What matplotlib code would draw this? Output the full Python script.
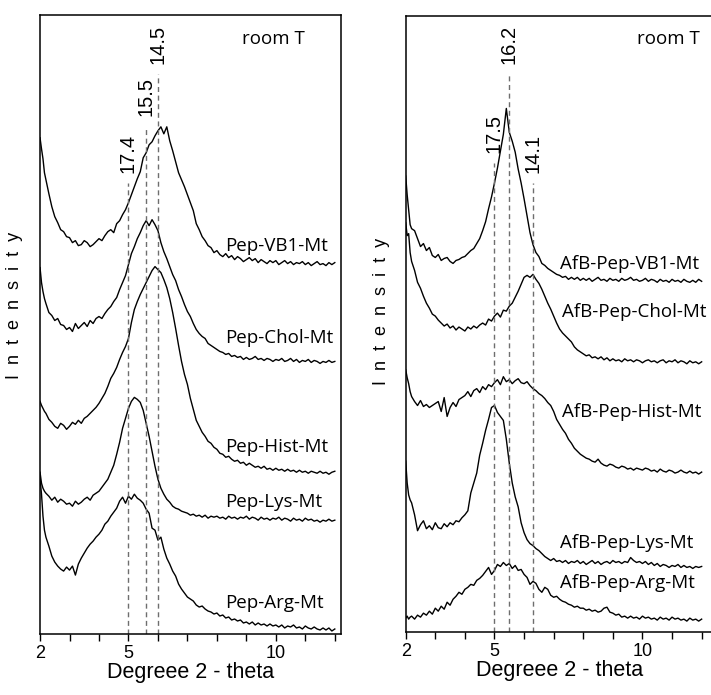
# XRD patterns of peptide / montmorillonite hybrids (left) and with AfB (right)

import matplotlib.pyplot as plt


two_theta = [2.0, 2.05, 2.1, 2.15, 2.2,
             2.3, 2.4, 2.5, 2.6, 2.7, 2.8, 2.9, 3.0, 3.1, 3.2,
             3.3, 3.4, 3.5, 3.6, 3.7, 3.8, 3.9, 4.0, 4.1, 4.2,
             4.3, 4.4, 4.5, 4.6, 4.7, 4.8, 4.9, 5.0, 5.1, 5.2,
             5.3, 5.4, 5.5, 5.6, 5.7, 5.8, 5.9, 6.0, 6.1, 6.2,
             6.3, 6.4, 6.5, 6.6, 6.7, 6.8, 6.9, 7.0, 7.1, 7.2,
             7.3, 7.4, 7.5, 7.6, 7.7, 7.8, 7.9, 8.0, 8.1, 8.2,
             8.3, 8.4, 8.5, 8.6, 8.7, 8.8, 8.9, 9.0, 9.1, 9.2,
             9.3, 9.4, 9.5, 9.6, 9.7, 9.8, 9.9, 10.0, 10.1, 10.2,
             10.3, 10.4, 10.5, 10.6, 10.7, 10.8, 10.9, 11.0, 11.1, 11.2,
             11.3, 11.4, 11.5, 11.6, 11.7, 11.8, 11.9, 12.0]

# left panel (arbitrary intensity)
pep_vb1 = [497, 486, 476, 462, 455,
           441, 428, 418, 412, 405, 403, 398, 397, 392, 394,
           389, 390, 394, 392, 388, 390, 393, 396, 394, 399,
           403, 405, 402, 411, 414, 420, 425, 432, 440, 448,
           456, 463, 477, 482, 490, 493, 499, 504, 508, 501,
           508, 494, 484, 473, 462, 455, 448, 440, 432, 424,
           411, 405, 398, 394, 389, 387, 382, 384, 380, 378,
           381, 377, 379, 375, 378, 376, 373, 375, 377, 374,
           376, 372, 375, 373, 371, 374, 372, 374, 370, 372,
           374, 371, 373, 370, 372, 371, 373, 370, 372, 369,
           371, 373, 370, 371, 369, 372, 370, 372]
pep_chol = [367, 352, 343, 336, 331,
            322, 319, 314, 316, 310, 309, 305, 307, 303, 311,
            306, 309, 312, 308, 314, 311, 316, 318, 316, 321,
            325, 328, 333, 337, 345, 352, 359, 370, 381, 388,
            396, 402, 409, 414, 409, 415, 410, 404, 392, 383,
            376, 368, 360, 354, 345, 338, 330, 323, 318, 311,
            305, 301, 298, 296, 291, 289, 287, 285, 283, 282,
            280, 281, 278, 279, 277, 278, 275, 277, 275, 276,
            278, 275, 276, 274, 276, 275, 273, 275, 274, 276,
            273, 274, 276, 273, 275, 272, 274, 273, 275, 272,
            274, 273, 271, 273, 272, 274, 272, 273]
pep_hist = [233, 229, 226, 223, 221,
            215, 212, 208, 206, 211, 209, 205, 208, 212, 210,
            214, 211, 216, 218, 221, 224, 227, 231, 236, 241,
            248, 256, 261, 267, 275, 282, 288, 296, 312, 325,
            333, 340, 346, 352, 358, 364, 368, 365, 362, 355,
            347, 336, 322, 306, 289, 273, 260, 250, 236, 225,
            214, 208, 202, 198, 193, 191, 187, 185, 181, 180,
            177, 178, 175, 173, 174, 171, 172, 169, 171, 169,
            167, 168, 166, 168, 165, 166, 164, 166, 164, 165,
            163, 165, 163, 164, 162, 164, 162, 163, 161, 163,
            162, 161, 163, 161, 162, 160, 162, 163]
pep_lys = [162, 151, 146, 143, 141,
           138, 134, 137, 132, 135, 133, 130, 131, 128, 133,
           130, 132, 135, 137, 134, 139, 141, 143, 147, 151,
           155, 162, 169, 180, 192, 206, 216, 226, 233, 237,
           235, 232, 224, 211, 198, 183, 168, 155, 146, 140,
           135, 132, 128, 126, 125, 123, 122, 121, 119, 120,
           118, 119, 117, 119, 116, 118, 117, 118, 116, 117,
           115, 118, 116, 117, 115, 117, 116, 118, 115, 117,
           116, 114, 117, 115, 116, 114, 116, 115, 117, 114,
           116, 115, 113, 116, 114, 115, 113, 116, 114, 115,
           113, 114, 112, 114, 113, 115, 113, 114]
pep_arg = [156, 140, 118, 104, 97,
           88, 78, 72, 68, 65, 63, 67, 64, 68, 59,
           70, 76, 81, 86, 90, 93, 97, 100, 104, 110,
           113, 118, 122, 126, 133, 137, 131, 138, 135, 140,
           136, 134, 131, 125, 121, 106, 104, 94, 97, 85,
           76, 70, 63, 58, 50, 45, 41, 37, 35, 33,
           29, 27, 28, 25, 23, 22, 20, 21, 18, 19,
           16, 17, 14, 15, 13, 14, 11, 12, 10, 12,
           9, 11, 9, 10, 8, 10, 8, 9, 7, 9,
           6, 8, 7, 9, 6, 7, 5, 8, 6, 5,
           7, 5, 4, 6, 4, 6, 3, 5]

# right panel
afb_vb1 = [459, 440, 425, 410, 406,
           404, 396, 388, 391, 384, 387, 379, 377, 380, 374,
           376, 377, 373, 371, 374, 375, 377, 378, 381, 384,
           386, 391, 396, 404, 413, 426, 438, 452, 467, 484,
           501, 527, 503, 494, 483, 466, 452, 436, 419, 402,
           390, 382, 378, 371, 369, 366, 364, 362, 360, 359,
           357, 358, 355, 357, 355, 357, 354, 356, 354, 356,
           353, 355, 357, 354, 355, 353, 356, 354, 355, 353,
           356, 354, 355, 357, 354, 355, 353, 354, 356, 353,
           355, 354, 352, 355, 353, 354, 352, 355, 353, 354,
           352, 355, 353, 352, 354, 352, 355, 353]
afb_chol = [412, 399, 401, 382, 373,
            364, 352, 346, 338, 331, 326, 320, 318, 314, 311,
            308, 310, 306, 308, 304, 307, 305, 303, 307, 305,
            308, 306, 309, 311, 309, 315, 313, 318, 321, 317,
            324, 323, 328, 331, 337, 343, 350, 357, 359, 357,
            360, 355, 351, 345, 338, 331, 325, 318, 311, 305,
            301, 298, 295, 292, 287, 284, 282, 280, 278, 279,
            276, 277, 275, 277, 274, 276, 273, 275, 273, 274,
            272, 275, 273, 274, 272, 274, 273, 271, 273, 274,
            272, 273, 271, 273, 274, 271, 273, 272, 274, 271,
            273, 272, 270, 273, 271, 272, 270, 272]
afb_hist = [264, 256, 250, 242, 237,
            232, 228, 233, 227, 229, 226, 228, 230, 232, 222,
            236, 217, 226, 231, 227, 234, 236, 238, 242, 237,
            243, 245, 241, 247, 244, 249, 247, 251, 254, 249,
            257, 252, 254, 250, 253, 255, 251, 250, 252, 248,
            245, 243, 240, 238, 235, 231, 228, 222, 214, 209,
            204, 200, 194, 190, 185, 182, 179, 177, 175, 174,
            172, 171, 174, 170, 168, 167, 169, 168, 166, 165,
            167, 166, 164, 165, 163, 165, 164, 163, 165, 164,
            162, 163, 161, 164, 162, 161, 163, 162, 160, 161,
            163, 161, 160, 162, 160, 161, 159, 161]
afb_lys = [172, 150, 138, 133, 130,
           118, 102, 108, 112, 104, 107, 103, 110, 105, 104,
           109, 106, 110, 108, 112, 111, 115, 118, 122, 140,
           150, 160, 178, 190, 203, 214, 226, 228, 221, 217,
           213, 194, 170, 150, 136, 126, 110, 100, 93, 89,
           87, 84, 82, 79, 76, 74, 72, 74, 71, 72,
           70, 72, 69, 71, 70, 72, 69, 71, 68, 70,
           72, 69, 71, 68, 70, 71, 69, 72, 70, 71,
           69, 71, 70, 75, 72, 70, 71, 69, 71, 68,
           70, 67, 69, 66, 68, 67, 65, 67, 66, 68,
           65, 67, 65, 66, 64, 66, 65, 66]
afb_arg = [14, 16, 13, 15, 16,
           13, 17, 15, 19, 17, 21, 18, 24, 21, 26,
           23, 30, 27, 33, 36, 40, 38, 43, 45, 48,
           47, 52, 54, 57, 61, 65, 58, 62, 68, 66,
           70, 67, 69, 64, 67, 62, 63, 58, 55, 48,
           51, 49, 43, 40, 45, 43, 37, 35, 36, 33,
           31, 30, 28, 27, 25, 26, 24, 24, 22, 23,
           21, 22, 20, 21, 24, 25, 20, 19, 17, 18,
           15, 16, 14, 16, 14, 15, 13, 16, 14, 15,
           13, 14, 12, 15, 13, 14, 12, 15, 13, 14,
           12, 13, 11, 14, 12, 13, 11, 13]

left_names = ["Pep-VB1-Mt", "Pep-Chol-Mt", "Pep-Hist-Mt", "Pep-Lys-Mt", "Pep-Arg-Mt"]
right_names = ["AfB-Pep-VB1-Mt", "AfB-Pep-Chol-Mt", "AfB-Pep-Hist-Mt",
               "AfB-Pep-Lys-Mt", "AfB-Pep-Arg-Mt"]

# basal spacings (Angstrom) and where they sit in 2-theta
left_d = ["17.4", "15.5", "14.5"]
left_d_pos = [4.98, 5.60, 6.01]
right_d = ["17.5", "16.2", "14.1"]
right_d_pos = [4.99, 5.49, 6.30]

###

plt.rcParams["font.family"] = ["Liberation Sans", "DejaVu Sans"]

fig = plt.figure(figsize=(7.11, 6.95), dpi=100)
ax1 = fig.add_axes([0.0563, 0.0878, 0.4233, 0.8906])
ax2 = fig.add_axes([0.5706, 0.0906, 0.4329, 0.8863])

label_font = {"family": ["Open Sans", "DejaVu Sans"], "size": 13.5}
dash = (0, (3.6, 2.6))


def draw_panel(ax, curves, names, name_pos, d_labels, d_pos, d_top, xmax, room_x):
    for y, name, (lx, ly) in zip(curves, names, name_pos):
        ax.plot(two_theta, y, color="black", lw=1.0)
        ax.text(lx, ly, name, ha="left", va="center", **label_font)

    for lab, x, top in zip(d_labels, d_pos, d_top):
        ax.vlines(x, 0, top, colors="#6e6e6e", lw=1.0, linestyles=dash)
        ax.text(x, top + 10, lab, rotation=90, ha="center", va="bottom", fontsize=14.5)

    ax.text(room_x, 0.962, "room T", transform=ax.transAxes,
            ha="left", va="center", **label_font)

    ax.set_xlim(2, xmax)
    ax.set_ylim(0, 620)
    ax.set_xticks(range(2, 13))
    ax.set_xticklabels(["2", "", "", "5", "", "", "", "", "10", "", ""])
    ax.set_yticks([])
    ax.tick_params(axis="x", direction="out", length=5, width=1.0, labelsize=13, pad=3)
    for s in ax.spines.values():
        s.set_linewidth(1.1)
    ax.set_xlabel("Degreee 2 - theta", fontsize=15.5, labelpad=0)
    ax.set_ylabel("I  n  t  e  n  s  i  t  y", fontsize=13)


draw_panel(
    ax1,
    [pep_vb1, pep_chol, pep_hist, pep_lys, pep_arg],
    left_names,
    [(8.28, 389), (8.28, 296), (8.28, 187), (8.28, 132), (8.28, 31)],
    left_d, left_d_pos, [452, 509, 561],
    12.21, 0.671,
)
ax1.yaxis.set_label_coords(-0.058, 0.53)

draw_panel(
    ax2,
    [afb_vb1, afb_chol, afb_hist, afb_lys, afb_arg],
    right_names,
    [(7.21, 370), (7.27, 322), (7.27, 221), (7.21, 90), (7.21, 49)],
    right_d, right_d_pos, [472, 562, 452],
    12.4, 0.751,
)
ax2.yaxis.set_label_coords(-0.051, 0.52)

plt.savefig("out.png", dpi=100)
